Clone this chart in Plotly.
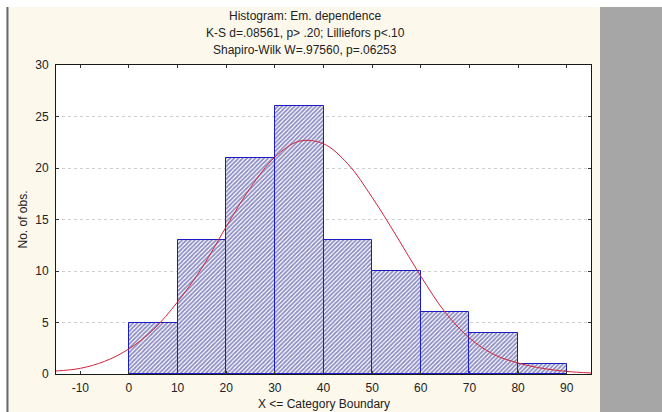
import plotly.graph_objects as go

# ---- data ----
bin_lower = [0, 10, 20, 30, 40, 50, 60, 70, 80]
counts = [5, 13, 21, 26, 13, 10, 6, 4, 1]
curve_x = [-15, -10, -5, 0, 5, 10, 15, 20, 25, 30, 35, 40, 45, 50, 55, 60, 65, 70, 75, 80, 85, 90, 95]
curve_y = [0.29, 0.55, 1.23, 2.44, 4.3, 7.0, 10.3, 14.3, 18.1, 21.05, 22.6, 22.35, 20.4, 17.15,
           13.4, 9.5, 6.0, 3.5, 1.9, 1.07, 0.55, 0.25, 0.1]
x_ticks = [-10, 0, 10, 20, 30, 40, 50, 60, 70, 80, 90]
x_tick_labels = ["-10", "0", "10", "20", "30", "40", "50", "60", "70", "80", "90"]
y_ticks = [0, 5, 10, 15, 20, 25, 30]
title_lines = ["Histogram: Em. dependence",
               "K-S d=.08561, p&gt; .20; Lilliefors p&lt;.10",
               "Shapiro-Wilk W=.97560, p=.06253"]

W, H = 662, 412
L, R, T, B = 56, 591, 65, 374  # plot area in pixels
pw, ph = R - L, B - T

def px(x):
    return (x - L) / pw

def py(y):
    return (B - y) / ph

FONT = "Liberation Sans, Arial, sans-serif"
CREAM = "#fcf8ec"
FS = 12

fig = go.Figure()
fig.add_trace(go.Bar(
    x=bin_lower, y=counts, width=10, offset=0,
    marker=dict(color="white",
                line=dict(color="#1c1cc4", width=1),
                pattern=dict(shape="/", fgcolor="#1c1c88", bgcolor="white", size=3, solidity=0.6)),
    showlegend=False, hoverinfo="x+y"))
fig.add_trace(go.Scatter(
    x=curve_x, y=curve_y, mode="lines", line=dict(color="#d0243a", width=1, shape="spline"),
    showlegend=False, cliponaxis=True))

shapes = [
    dict(type="rect", xref="paper", yref="paper", x0=px(0), x1=px(W), y0=py(7), y1=py(0),
         fillcolor="white", line=dict(width=0), layer="below"),
    dict(type="rect", xref="paper", yref="paper", x0=px(0), x1=px(6), y0=py(H), y1=py(0),
         fillcolor="white", line=dict(width=0), layer="below"),
    dict(type="rect", xref="paper", yref="paper", x0=px(6), x1=px(7), y0=py(H), y1=py(7),
         fillcolor="#a8a8a8", line=dict(width=0), layer="below"),
    dict(type="rect", xref="paper", yref="paper", x0=px(7), x1=px(8.5), y0=py(H), y1=py(7),
         fillcolor="#6a6a6a", line=dict(width=0), layer="below"),
    dict(type="rect", xref="paper", yref="paper", x0=px(600), x1=px(W), y0=py(H), y1=py(7),
         fillcolor="#a6a6a6", line=dict(width=0), layer="below"),
]

annotations = []
for i, t in enumerate(title_lines):
    annotations.append(dict(text=t, xref="paper", yref="paper", x=px(305), y=py(16 + 17 * i),
                            xanchor="center", yanchor="middle", showarrow=False,
                            font=dict(family=FONT, size=FS, color="#222")))
annotations.append(dict(text="X &lt;= Category Boundary", xref="paper", yref="paper",
                        x=0.5, y=py(403.5), xanchor="center", yanchor="middle", showarrow=False,
                        font=dict(family=FONT, size=FS, color="#222")))
annotations.append(dict(text="No. of obs.", xref="paper", yref="paper", textangle=-90,
                        x=px(22), y=0.5, xanchor="center", yanchor="middle", showarrow=False,
                        font=dict(family=FONT, size=FS, color="#222")))

axis_common = dict(showline=True, linecolor="#1a1a1a", linewidth=1, mirror="ticks",
                   ticks="inside", ticklen=3, tickcolor="#333", zeroline=False,
                   tickfont=dict(family=FONT, size=FS, color="#222"))

fig.update_layout(
    width=W, height=H,
    margin=dict(l=L, r=W - R, t=T, b=H - B, pad=0),
    paper_bgcolor=CREAM, plot_bgcolor="white",
    bargap=0,
    xaxis=dict(range=[-15, 95], tickvals=x_ticks, ticktext=x_tick_labels, showgrid=False,
               ticklabelstandoff=3, **axis_common),
    yaxis=dict(range=[0, 30], tickvals=y_ticks, showgrid=True, gridcolor="#cfcfcf",
               griddash="dot", gridwidth=1, ticklabelstandoff=4, **axis_common),
    shapes=shapes, annotations=annotations,
)

fig.write_html("out.html")
